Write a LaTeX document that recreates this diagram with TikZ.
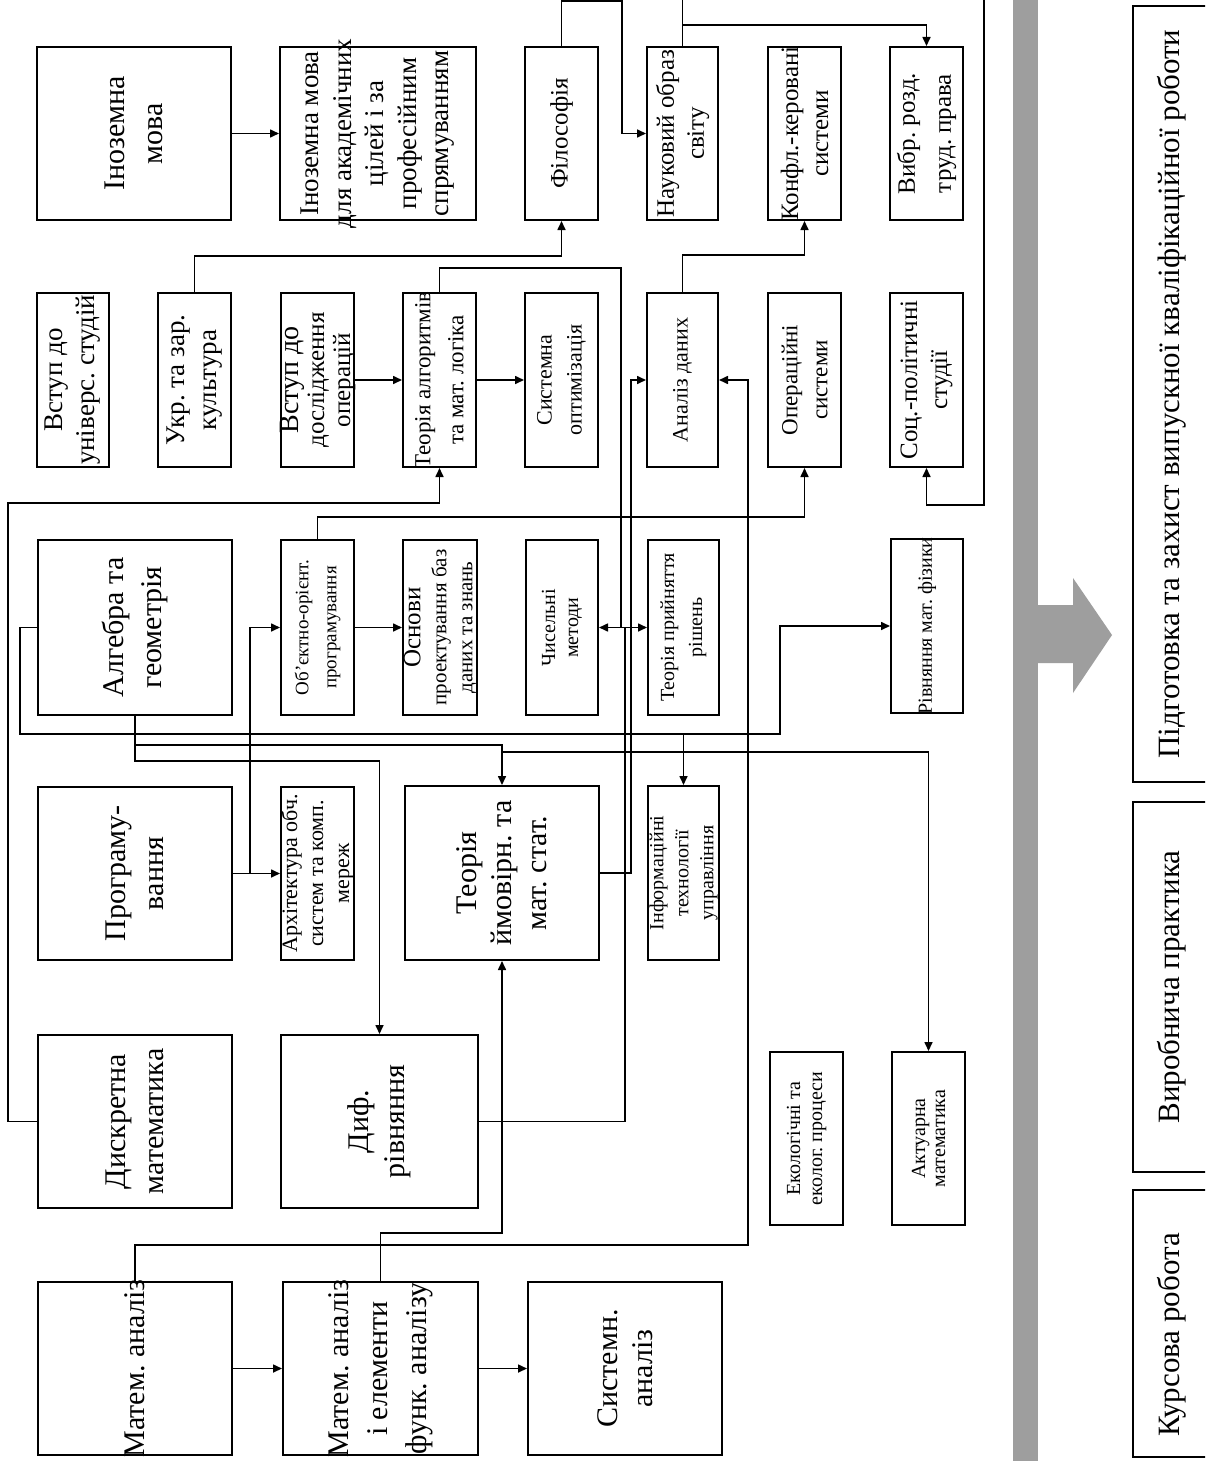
\documentclass[tikz,border=0pt]{standalone}
\usepackage{fontspec}
\setmainfont{Liberation Serif}
\usetikzlibrary{arrows.meta}
\definecolor{barg}{RGB}{158,158,158}
\frenchspacing
\newcommand\bx[7]{%
  \node[box, minimum width={(#4-#2)*0.5pt}, minimum height={(#5-#3)*0.5pt}] (#1) at ({(#2+#4)/2},{(#3+#5)/2}) {};
  \node[txt,#6] (#1-t) at (#1.center) {#7};}
\begin{document}
\begin{tikzpicture}[x=0.5pt,y=-0.5pt,
  box/.style={draw, line width=1pt, inner sep=0pt},
  txt/.style={rotate=90, align=center, inner sep=0pt},
  fs/.style 2 args={font=\fontsize{#1}{#2}\selectfont},
  fA/.style={fs={15}{19}},
  ln/.style={line width=0.8pt},
  arr/.style={line width=0.8pt, -{Triangle[length=4.5pt,width=4pt]}}]
\useasboundingbox (0,0) rectangle (1205,1461);
\fill[white] (0,0) rectangle (1205,1461);
\clip (0,0) rectangle (1205,1461);

% row 1
\bx{inoz}{37}{47}{231}{220}{fA}{Іноземна\\мова}
\bx{inozak}{280}{47}{476}{220}{fs={13.5}{16.25}}{Іноземна мова\\для академічних\\цілей і за\\професійним\\спрямуванням}
\bx{phil}{525}{47}{598}{220}{fs={12.5}{15}}{Філософія}
\bx{nauk}{647}{47}{718}{220}{fs={12.5}{15}}{Науковий образ\\світу}
\bx{konfl}{768}{47}{841}{220}{fs={12.5}{15}}{Конфл.-керовані\\системи}
\bx{vybr}{890}{47}{963}{220}{fs={12.5}{18}}{Вибр. розд.\\труд. права}
% row 2
\bx{vstup}{37}{293}{109}{467}{fs={13.5}{16}}{Вступ до\\універс. студій}
\bx{ukr}{158}{293}{231}{467}{fs={13.5}{16}}{Укр. та зар.\\культура}
\bx{vdo}{281}{293}{354}{467}{fs={12.5}{13}}{{\fontsize{14}{13}\selectfont Вступ до}\\дослідження\\операцій}
\bx{talg}{403}{293}{476}{467}{fs={11.5}{16.5}}{Теорія алгоритмів\\та мат. логіка}
\bx{sopt}{525}{293}{598}{467}{fs={11}{15}}{Системна\\оптимізація}
\bx{anal}{647}{293}{718}{467}{fs={11}{15}}{Аналіз даних}
\bx{oper}{768}{293}{841}{467}{fs={11.5}{15}}{Операційні\\системи}
\bx{socp}{890}{293}{963}{467}{fs={12.5}{15}}{Соц.-політичні\\студії}
% row 3
\bx{alg}{38}{540}{232}{715}{fA}{Алгебра та\\геометрія}
\bx{oop}{281}{540}{354}{715}{fs={9.5}{14}}{Об’єктно-орієнт.\\програмування}
\bx{osn}{403}{540}{477}{715}{fs={10.5}{13}}{{\fontsize{12.5}{14}\selectfont Основи}\\проектування баз\\даних та знань}
\bx{chys}{526}{540}{598}{715}{fs={10}{11.5}}{Чисельні\\методи}
\bx{tpr}{648}{540}{719}{715}{fs={10}{14}}{Теорія прийняття\\рішень}
\bx{rmf}{891}{539}{963}{713}{fs={10}{12}}{Рівняння мат. фізики}
% row 4
\bx{prog}{38}{787}{232}{960}{fA}{Програму-\\вання}
\bx{arch}{281}{787}{354}{960}{fs={11}{13}}{Архітектура обч.\\систем та комп.\\мереж}
\bx{tymov}{405}{786}{599}{960}{fs={15}{17.5}}{Теорія\\ймовірн. та\\мат. стат.}
\bx{inft}{648}{786}{719}{960}{fs={10}{12.5}}{Інформаційні\\технології\\управління}
% row 5
\bx{dysk}{38}{1035}{232}{1208}{fA}{Дискретна\\математика}
\bx{dyf}{281}{1035}{478}{1208}{fs={15}{18}}{Диф.\\рівняння}
\bx{ekol}{770}{1052}{843}{1225}{fs={10}{11}}{Екологічні та\\еколог. процеси}
\bx{akt}{892}{1052}{965}{1225}{fs={10}{10}}{Актуарна\\математика}
% row 6
\bx{mat}{38}{1282}{232}{1455}{fA}{Матем. аналіз}
\bx{matf}{283}{1282}{478}{1455}{fs={15}{19.5}}{Матем. аналіз\\і елементи\\функ. аналізу}
\bx{sysan}{528}{1282}{722}{1455}{fs={15}{17.5}}{Системн.\\аналіз}

% right side
\fill[barg] (1013,-2) rectangle (1038,1463);
\fill[barg] (1036,605) -- (1073,605) -- (1073,578) -- (1112,635) -- (1073,693) -- (1073,663) -- (1036,663) -- cycle;
\node[box, minimum width={87*0.5pt}, minimum height={776*0.5pt}] (pidg) at (1176.5,394) {};
\node[txt, fs={15.5}{18}] (pidg-t) at (1172,394) {Підготовка та захист випускної кваліфікаційної роботи};
\node[box, minimum width={87*0.5pt}, minimum height={370*0.5pt}] (vyrob) at (1176.5,987) {};
\node[txt, fs={15.5}{18}] (vyrob-t) at (1172,987) {Виробнича практика};
\node[box, minimum width={87*0.5pt}, minimum height={267*0.5pt}] (kurs) at (1176.5,1323.5) {};
\node[txt, fs={15.5}{18}] (kurs-t) at (1172,1335) {Курсова робота};

% connectors
\draw[arr] (inoz.east) -- (inozak.west);
\draw[arr] (ukr.north) |- (561.5,256) -- (phil.south);
\draw[arr] (vdo.east) -- (talg.west);
\draw[arr] (talg.east) -- (sopt.west);
\coordinate (jn) at (623,627.5);
\draw[ln] (talg.north) |- (621,268) -- (621,627.5);
\draw[ln] (dyf.east) -| (625,627.5);
\draw[arr] (jn) -- (chys.east);
\draw[arr] (jn) -- (tpr.west);
\draw[arr] (tymov.east) -| (631,380) -- (anal.west);
\draw[arr] (mat.north) |- (748,1245) |- (anal.east);
\draw[arr] (matf.north) |- (502,1233) -- (tymov.south);
\draw[arr] (alg.south) |- (379.5,761) -- (dyf.north);
\draw[arr] (135,745) -| (tymov.north);
\draw[arr] (502,745) -- (502,752) -| (akt.north);
\draw[arr] (alg.west) -| (20,734) -| (780,626) -- (rmf.west);
\draw[arr] (683.5,734) -- (inft.north);
\draw[arr] (prog.east) -- (arch.west);
\draw[arr] (250,873.5) |- (oop.west);
\draw[arr] (oop.east) -- (osn.west);
\draw[arr] (oop.north) |- (804.5,517) -- (oper.south);
\draw[arr] (dysk.west) -| (8,503) -| (talg.south);
\draw[arr] (anal.north) |- (804.5,255) -- (konfl.south);
\draw[arr] (phil.north) |- (622,1) |- (nauk.west);
\draw[ln] (nauk.north) -- (682.5,-5);
\draw[arr] (682.5,25) -| (vybr.north);
\draw[arr] (984,-5) |- (926.5,505) -- (socp.south);
\draw[arr] (mat.east) -- (matf.west);
\draw[arr] (matf.east) -- (sysan.west);
\end{tikzpicture}
\end{document}
